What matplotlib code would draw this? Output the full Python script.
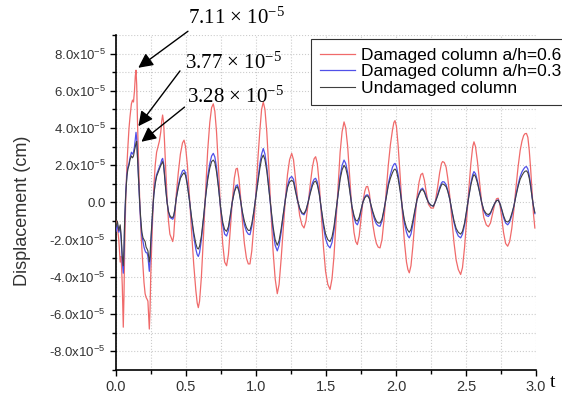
import matplotlib
matplotlib.use("Agg")
import matplotlib.pyplot as plt
from matplotlib.ticker import MultipleLocator, FixedLocator

# ---------------- data (displacement in units of 1e-5 cm) ----------------
t = [0.000, 0.010, 0.020, 0.030, 0.037, 0.045, 0.052, 0.057, 0.062, 0.070, 0.078, 0.085, 0.093, 0.100,
     0.110, 0.118, 0.125, 0.132, 0.138, 0.143, 0.148, 0.153, 0.160, 0.170, 0.178, 0.185, 0.193, 0.200,
     0.208, 0.215, 0.222, 0.228, 0.233, 0.238, 0.243, 0.248, 0.255, 0.262, 0.270, 0.280, 0.290, 0.300,
     0.310, 0.320, 0.327, 0.333, 0.340, 0.347, 0.355, 0.365, 0.375, 0.385, 0.395, 0.405, 0.412, 0.420,
     0.430, 0.445, 0.460, 0.475, 0.486, 0.497, 0.510, 0.525, 0.540, 0.555, 0.570, 0.580, 0.588, 0.597,
     0.610, 0.625, 0.640, 0.655, 0.670, 0.683, 0.695, 0.706, 0.718, 0.732, 0.747, 0.762, 0.776, 0.790,
     0.803, 0.816, 0.830, 0.845, 0.857, 0.867, 0.878, 0.890, 0.903, 0.917, 0.932, 0.945, 0.957, 0.970,
     0.985, 1.000, 1.015, 1.028, 1.040, 1.052, 1.064, 1.077, 1.092, 1.107, 1.122, 1.137, 1.152, 1.165,
     1.180, 1.195, 1.210, 1.225, 1.240, 1.255, 1.268, 1.282, 1.297, 1.312, 1.328, 1.343, 1.357, 1.372,
     1.388, 1.403, 1.415, 1.426, 1.438, 1.452, 1.467, 1.482, 1.497, 1.513, 1.529, 1.543, 1.557, 1.572,
     1.587, 1.601, 1.615, 1.629, 1.641, 1.655, 1.670, 1.685, 1.700, 1.712, 1.724, 1.737, 1.750, 1.763,
     1.777, 1.788, 1.798, 1.810, 1.822, 1.835, 1.848, 1.860, 1.873, 1.886, 1.900, 1.915, 1.930, 1.945,
     1.960, 1.975, 1.985, 1.993, 2.003, 2.015, 2.030, 2.045, 2.060, 2.075, 2.085, 2.095, 2.107, 2.120,
     2.135, 2.150, 2.165, 2.178, 2.190, 2.203, 2.217, 2.232, 2.250, 2.267, 2.282, 2.297, 2.312, 2.325,
     2.333, 2.345, 2.358, 2.370, 2.385, 2.400, 2.415, 2.430, 2.445, 2.462, 2.475, 2.490, 2.505, 2.520,
     2.535, 2.548, 2.557, 2.568, 2.582, 2.597, 2.612, 2.627, 2.645, 2.660, 2.675, 2.690, 2.705, 2.718,
     2.730, 2.742, 2.755, 2.768, 2.783, 2.798, 2.812, 2.827, 2.842, 2.857, 2.872, 2.887, 2.900, 2.912,
     2.922, 2.932, 2.942, 2.952, 2.962, 2.972, 2.982, 2.992]

v_red = [-1.0, -1.3, -2.0, -3.2, -2.9, -4.5, -6.7, -5.0, -2.5, 0.3, 2.0, 3.0, 4.0, 4.6,
         5.3, 5.5, 5.4, 6.0, 6.8, 7.11, 6.3, 4.5, 2.5, 0.0, -1.5, -2.5, -3.5, -4.3,
         -4.9, -5.1, -5.2, -5.3, -6.0, -6.8, -5.8, -4.0, -2.3, -0.8, 0.8, 2.0, 2.7, 3.0,
         3.3, 3.8, 4.4, 4.7, 4.3, 3.2, 1.8, 0.2, -1.0, -1.7, -1.9, -2.1, -1.8, -0.9,
         0.4, 1.6, 2.6, 3.2, 3.35, 3.0, 2.0, 0.3, -1.6, -3.3, -4.7, -5.4, -5.65, -5.3,
         -4.0, -1.8, 0.6, 2.8, 4.3, 5.1, 5.3, 4.9, 3.8, 1.9, -0.4, -2.2, -3.2, -3.4,
         -2.8, -1.5, 0.0, 1.3, 1.8, 1.84, 1.3, 0.3, -1.0, -2.2, -3.0, -3.3, -3.3, -2.6,
         -1.2, 0.6, 2.5, 3.9, 5.0, 5.4, 5.0, 3.8, 1.8, -0.5, -2.6, -4.1, -4.9, -4.4,
         -3.0, -1.4, 0.2, 1.5, 2.3, 2.64, 2.3, 1.3, 0.2, -0.7, -1.2, -1.37, -1.0, -0.1,
         1.0, 1.9, 2.35, 2.46, 2.1, 1.0, -0.7, -2.4, -3.7, -4.4, -4.67, -4.1, -2.9, -1.0,
         1.0, 2.7, 3.8, 4.33, 4.0, 3.0, 1.3, -0.4, -1.6, -2.1, -2.26, -1.8, -0.9, 0.0,
         0.6, 0.85, 0.86, 0.5, -0.3, -1.2, -1.8, -2.2, -2.4, -2.44, -2.0, -0.9, 0.6, 2.0,
         3.1, 3.9, 4.3, 4.4, 4.1, 3.1, 1.4, -0.5, -2.1, -3.2, -3.6, -3.78, -3.4, -2.4,
         -1.0, 0.3, 1.1, 1.5, 1.57, 1.2, 0.5, -0.1, -0.3, -0.3, 0.1, 0.8, 1.6, 2.1,
         2.2, 2.15, 1.9, 1.3, 0.3, -1.0, -2.2, -3.1, -3.6, -3.87, -3.5, -2.4, -0.9, 0.7,
         2.1, 3.0, 3.26, 3.0, 2.2, 1.1, 0.0, -0.8, -1.2, -1.3, -1.1, -0.6, -0.1, 0.2,
         0.23, -0.1, -0.8, -1.6, -2.2, -2.35, -2.1, -1.4, -0.4, 0.8, 1.9, 2.8, 3.3, 3.6,
         3.7, 3.71, 3.5, 2.8, 1.8, 0.6, -0.6, -1.37]

v_blue = [-1.55, -1.2, -1.6, -1.3, -2.0, -3.2, -3.8, -2.8, -1.0, 0.6, 1.5, 1.9, 2.1, 2.4,
          2.7, 2.6, 2.7, 3.0, 3.4, 3.77, 3.4, 2.6, 1.4, -0.2, -1.2, -1.8, -2.1, -2.4,
          -2.6, -2.7, -2.7, -2.9, -3.3, -3.7, -3.2, -2.4, -1.4, -0.5, 0.4, 1.1, 1.5, 1.7,
          1.9, 2.1, 2.3, 2.37, 2.1, 1.5, 0.8, 0.0, -0.5, -0.8, -0.85, -0.9, -0.8, -0.4,
          0.2, 0.9, 1.4, 1.7, 1.75, 1.6, 1.0, 0.1, -0.9, -1.8, -2.5, -2.8, -2.9, -2.7,
          -2.0, -0.9, 0.3, 1.4, 2.1, 2.5, 2.64, 2.45, 1.9, 0.9, -0.3, -1.2, -1.7, -1.8,
          -1.5, -0.8, 0.0, 0.6, 0.9, 0.95, 0.7, 0.1, -0.6, -1.2, -1.55, -1.7, -1.73, -1.3,
          -0.5, 0.4, 1.3, 2.1, 2.6, 2.9, 2.6, 1.9, 0.8, -0.4, -1.5, -2.3, -2.6, -2.3,
          -1.6, -0.7, 0.2, 0.9, 1.3, 1.4, 1.25, 0.7, 0.1, -0.35, -0.6, -0.66, -0.45, 0.0,
          0.6, 1.05, 1.25, 1.3, 1.1, 0.5, -0.4, -1.3, -1.95, -2.3, -2.44, -2.15, -1.5, -0.5,
          0.5, 1.4, 2.0, 2.28, 2.1, 1.6, 0.7, -0.2, -0.8, -1.1, -1.2, -0.95, -0.45, 0.0,
          0.3, 0.4, 0.41, 0.25, -0.2, -0.6, -0.95, -1.15, -1.25, -1.28, -1.0, -0.4, 0.3, 1.0,
          1.5, 1.9, 2.05, 2.1, 1.95, 1.5, 0.7, -0.3, -1.1, -1.6, -1.8, -1.9, -1.7, -1.2,
          -0.5, 0.15, 0.5, 0.7, 0.77, 0.6, 0.3, 0.0, -0.15, -0.2, 0.05, 0.4, 0.8, 1.05,
          1.12, 1.1, 0.95, 0.65, 0.15, -0.5, -1.1, -1.55, -1.8, -1.9, -1.7, -1.2, -0.45, 0.35,
          1.05, 1.5, 1.66, 1.55, 1.15, 0.6, 0.0, -0.45, -0.7, -0.75, -0.6, -0.3, -0.05, 0.1,
          0.14, -0.05, -0.4, -0.8, -1.1, -1.2, -1.05, -0.7, -0.2, 0.4, 0.95, 1.4, 1.65, 1.8,
          1.9, 1.93, 1.8, 1.45, 0.95, 0.3, -0.2, -0.6]

v_black = [-1.3, -1.0, -1.5, -1.2, -1.8, -2.9, -3.4, -2.5, -0.9, 0.5, 1.4, 1.8, 2.0, 2.3,
           2.5, 2.4, 2.5, 2.8, 3.0, 3.2, 3.28, 2.5, 1.3, -0.1, -1.0, -1.6, -1.9, -2.0,
           -2.1, -2.4, -2.5, -2.6, -2.9, -3.2, -2.9, -2.1, -1.2, -0.4, 0.4, 1.0, 1.4, 1.6,
           1.8, 2.0, 2.1, 2.2, 2.0, 1.4, 0.7, 0.0, -0.5, -0.7, -0.8, -0.8, -0.7, -0.4,
           0.2, 0.8, 1.3, 1.5, 1.6, 1.45, 0.9, 0.1, -0.8, -1.6, -2.2, -2.45, -2.5, -2.35,
           -1.8, -0.8, 0.3, 1.2, 1.85, 2.2, 2.28, 2.15, 1.65, 0.8, -0.25, -1.05, -1.45, -1.55,
           -1.3, -0.7, 0.0, 0.55, 0.8, 0.85, 0.6, 0.1, -0.5, -1.0, -1.35, -1.5, -1.5, -1.15,
           -0.45, 0.35, 1.15, 1.85, 2.35, 2.55, 2.3, 1.7, 0.7, -0.35, -1.3, -2.0, -2.3, -2.05,
           -1.4, -0.6, 0.15, 0.8, 1.1, 1.2, 1.1, 0.6, 0.1, -0.3, -0.55, -0.6, -0.4, 0.0,
           0.5, 0.9, 1.1, 1.15, 0.95, 0.45, -0.35, -1.1, -1.7, -2.0, -2.1, -1.85, -1.3, -0.4,
           0.45, 1.25, 1.75, 2.0, 1.85, 1.4, 0.6, -0.2, -0.7, -0.95, -1.0, -0.8, -0.4, 0.0,
           0.25, 0.35, 0.35, 0.2, -0.15, -0.5, -0.8, -1.0, -1.1, -1.1, -0.9, -0.35, 0.25, 0.9,
           1.3, 1.6, 1.75, 1.8, 1.7, 1.3, 0.6, -0.25, -0.95, -1.35, -1.5, -1.6, -1.45, -1.0,
           -0.4, 0.15, 0.45, 0.65, 0.7, 0.55, 0.25, 0.0, -0.15, -0.2, 0.05, 0.35, 0.7, 0.95,
           1.0, 0.95, 0.85, 0.6, 0.15, -0.45, -1.0, -1.4, -1.6, -1.7, -1.55, -1.1, -0.4, 0.3,
           0.95, 1.35, 1.5, 1.4, 1.05, 0.55, 0.0, -0.4, -0.6, -0.65, -0.55, -0.3, -0.05, 0.1,
           0.12, -0.05, -0.35, -0.7, -1.0, -1.05, -0.95, -0.6, -0.2, 0.35, 0.85, 1.25, 1.45, 1.6,
           1.68, 1.7, 1.6, 1.3, 0.85, 0.3, -0.2, -0.55]

labels = ["Damaged column a/h=0.6", "Damaged column a/h=0.3", "Undamaged column"]
peak_vals = [7.11, 3.77, 3.28]
peak_times = [0.143, 0.148, 0.166]
peak_tip_vals = [7.15, 3.98, 3.17]
text_pos = [(0.514, 9.88), (0.493, 7.47), (0.507, 5.64)]
tail_pos = [(0.53, 9.29), (0.469, 7.19), (0.505, 5.22)]
yticks = [-8, -6, -4, -2, 0, 2, 4, 6, 8]
xticks = [0.0, 0.5, 1.0, 1.5, 2.0, 2.5, 3.0]

scale = 1e-5

# ---------------- plot ----------------
plt.rcParams['mathtext.fontset'] = 'stix'
plt.rcParams['mathtext.default'] = 'regular'
plt.rcParams['font.family'] = ['Liberation Sans', 'DejaVu Sans']

fig = plt.figure(figsize=(5.62, 3.96), dpi=100)
ax = fig.add_axes([0.2064, 0.0657, 0.7473, 0.8459])

ax.plot(t, [v * scale for v in v_red], color='#f06a6a', lw=0.9, label=labels[0], zorder=3)
ax.plot(t, [v * scale for v in v_blue], color='#5050e8', lw=0.9, label=labels[1], zorder=4)
ax.plot(t, [v * scale for v in v_black], color='#404040', lw=0.8, label=labels[2], zorder=5)

ax.set_xlim(0, 3.0)
ax.set_ylim(-9e-5, 9e-5)
ax.xaxis.set_major_locator(FixedLocator(xticks))
ax.xaxis.set_minor_locator(MultipleLocator(0.25))
ax.yaxis.set_major_locator(FixedLocator([v * scale for v in yticks]))
ax.yaxis.set_minor_locator(MultipleLocator(1e-5))
ax.set_xticklabels([f"{x:.1f}" for x in xticks], fontsize=10.5, color='#333333')
ylab = []
for v in yticks:
    if v == 0:
        ylab.append("0.0")
    else:
        ylab.append(f"{v:.1f}x10$^{{-5}}$")
ax.set_yticklabels(ylab, fontsize=9.5, color='#333333')

ax.grid(True, which='both', color='#cccccc', ls=':', lw=0.8)
ax.set_axisbelow(True)
for s in ['top', 'right']:
    ax.spines[s].set_visible(False)
for s in ['left', 'bottom']:
    ax.spines[s].set_linewidth(1.2)
ax.tick_params(which='major', direction='out', length=4, width=1.0)
ax.tick_params(which='minor', direction='out', length=3, width=1.0)

ax.set_ylabel("Displacement (cm)", fontsize=13, color='#333333')
ax.yaxis.set_label_coords(-0.203, 0.475)
fig.text(0.983, 0.035, "t", family='Liberation Serif', fontsize=14, ha='center', va='center')

leg = ax.legend(loc='upper right', bbox_to_anchor=(1.082, 0.988), fontsize=12.5, frameon=True,
                fancybox=False, edgecolor='#333333', framealpha=1, borderpad=0.5,
                labelspacing=0.08, handlelength=2.0, handletextpad=0.4, borderaxespad=0)
leg.get_frame().set_linewidth(0.8)

for pv, pt, ptv, tp, tl in zip(peak_vals, peak_times, peak_tip_vals, text_pos, tail_pos):
    ax.annotate("", xy=(pt, ptv * scale), xytext=(tl[0], tl[1] * scale),
                arrowprops=dict(arrowstyle='-|>', color='black', lw=1.0, mutation_scale=22),
                annotation_clip=False, zorder=10)
    ax.text(tp[0], tp[1] * scale, f"{pv:.2f} $\\times$ 10$^{{-5}}$", fontsize=15,
            family='Liberation Serif', ha='left', va='center', clip_on=False, zorder=10)

fig.savefig("out.png", dpi=100)
